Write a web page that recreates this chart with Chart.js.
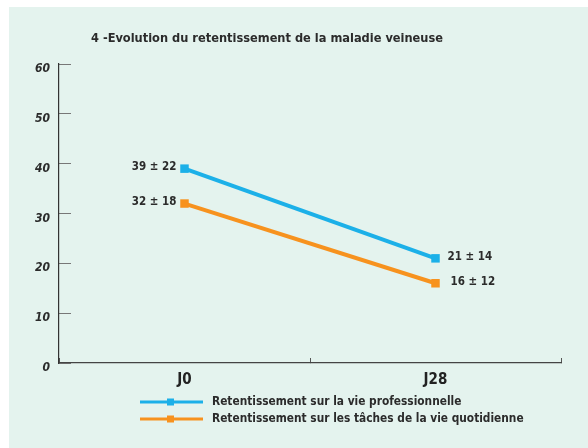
<!DOCTYPE html>
<html>
<head>
<meta charset="utf-8">
<script src="https://cdn.jsdelivr.net/npm/chart.js@4"></script>
<style>
  body { margin: 0; background: #fff; }
  #panel { position: absolute; left: 9px; top: 7px; width: 579px; height: 441px; background: #e4f3ee; }
</style>
</head>
<body>
<div id="panel"><canvas id="myChart"></canvas></div>
<script>
// Données
const labels = ["J0", "J28"];
const proValues = [39, 21];
const proSd = [22, 14];
const quotValues = [32, 16];
const quotSd = [18, 12];
const yTicks = [0, 10, 20, 30, 40, 50, 60];
const chartTitle = "4 -Evolution du retentissement de la maladie veineuse";

const FONT = "'Liberation Sans Narrow', 'DejaVu Sans Condensed', sans-serif";
const BLUE = "#1cb0e8";
const ORANGE = "#f7921e";
const TEXT = "#2b2b2b";

// Titre (décalé vers la gauche comme sur l'original)
const leftTitle = {
    id: "leftTitle",
    afterDraw(chart) {
        const ctx = chart.ctx;
        ctx.save();
        ctx.font = "bold 12.7px " + FONT;
        ctx.fillStyle = TEXT;
        ctx.textAlign = "center";
        ctx.textBaseline = "middle";
        ctx.fillText(chartTitle, chart.chartArea.left + 208, 32);
        ctx.restore();
    }
};

// Étiquettes "moyenne ± écart-type" à côté des points
const valueLabels = {
    id: "valueLabels",
    afterDatasetsDraw(chart) {
        const ctx = chart.ctx;
        ctx.save();
        ctx.font = "bold 11.5px " + FONT;
        ctx.fillStyle = TEXT;
        ctx.textBaseline = "middle";
        chart.data.datasets.forEach((ds, i) => {
            const meta = chart.getDatasetMeta(i);
            meta.data.forEach((pt, j) => {
                const txt = ds.data[j] + " ± " + ds.sd[j];
                if (j === 0) {
                    ctx.textAlign = "right";
                    ctx.fillText(txt, pt.x - 8, pt.y - 2);
                } else {
                    ctx.textAlign = "left";
                    ctx.fillText(txt, pt.x + 12 + i * 3, pt.y - 1);
                }
            });
        });
        ctx.restore();
    }
};

// Légende : trait + carré
const lineLegend = {
    id: "lineLegend",
    afterDraw(chart) {
        const ctx = chart.ctx;
        ctx.save();
        ctx.font = "bold 11.8px " + FONT;
        ctx.textBaseline = "middle";
        ctx.textAlign = "left";
        chart.data.datasets.forEach((ds, i) => {
            const y = 395 + i * 17;
            ctx.strokeStyle = ds.borderColor;
            ctx.lineWidth = 3;
            ctx.beginPath();
            ctx.moveTo(131, y);
            ctx.lineTo(194, y);
            ctx.stroke();
            ctx.fillStyle = ds.borderColor;
            ctx.fillRect(158, y - 3.5, 7, 7);
            ctx.fillStyle = TEXT;
            ctx.fillText(ds.label, 203, y);
        });
        ctx.restore();
    }
};

const config = {
    type: "line",
    data: {
        labels: labels,
        datasets: [
            {
                label: "Retentissement sur la vie professionnelle",
                data: proValues,
                sd: proSd,
                borderColor: BLUE,
                backgroundColor: BLUE,
                borderWidth: 4,
                pointStyle: "rect",
                pointRadius: 6,
                pointBorderWidth: 0
            },
            {
                label: "Retentissement sur les tâches de la vie quotidienne",
                data: quotValues,
                sd: quotSd,
                borderColor: ORANGE,
                backgroundColor: ORANGE,
                borderWidth: 4,
                pointStyle: "rect",
                pointRadius: 6,
                pointBorderWidth: 0
            }
        ]
    },
    options: {
        responsive: true,
        maintainAspectRatio: false,
        animation: false,
        layout: { padding: { left: 0, right: 27, top: 57, bottom: 0 } },
        plugins: {
            legend: { display: false },
            tooltip: { enabled: false },
            title: { display: false }
        },
        scales: {
            x: {
                offset: true,
                grid: { offset: true, drawOnChartArea: false, tickLength: -5, color: "#555" },
                border: { color: "#444", width: 1.2 },
                ticks: {
                    color: "#222",
                    padding: 13,
                    font: { family: FONT, size: 15, weight: "bold" }
                },
                afterFit(scale) { scale.height = 85; }
            },
            y: {
                min: 0,
                max: 60,
                afterBuildTicks(scale) { scale.ticks = yTicks.map(v => ({ value: v })); },
                grid: { drawOnChartArea: false, tickLength: -12, color: "#777" },
                border: { color: "#333", width: 1.2 },
                ticks: {
                    color: TEXT,
                    padding: 21,
                    labelOffset: 5,
                    font: { family: FONT, size: 12, weight: "bold", style: "italic" }
                },
                afterFit(scale) { scale.width = 50; }
            }
        }
    },
    plugins: [leftTitle, valueLabels, lineLegend]
};

const myChart = new Chart(document.getElementById("myChart"), config);
</script>
</body>
</html>
